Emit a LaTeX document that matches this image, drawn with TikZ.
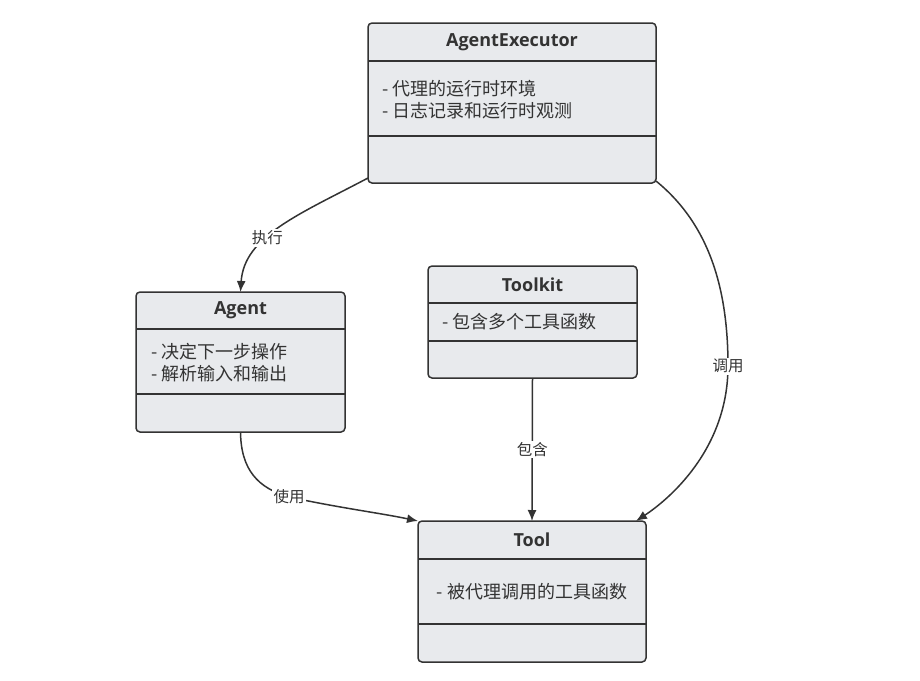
\documentclass[tikz,border=0pt]{standalone}
\usepackage{fontspec}
\setmainfont{Noto Sans CJK SC}
\newfontfamily\titlefont{Open Sans}
\usetikzlibrary{arrows.meta}
\definecolor{boxfill}{RGB}{232,234,237}
\definecolor{ink}{RGB}{51,51,51}

\begin{document}
\begin{tikzpicture}[
  x=1pt, y=-1pt,
  classbox/.style={draw=ink, fill=boxfill, rounded corners=4pt, line width=1.5pt, inner sep=0pt, outer sep=0pt},
  classtitle/.style={font=\titlefont\bfseries\fontsize{18}{22}\selectfont, text=ink, inner sep=0pt},
  member/.style={font=\fontsize{18}{22}\selectfont, text=ink, align=left, anchor=west, inner sep=0pt},
  divider/.style={draw=ink, line width=1.5pt},
  lbl/.style={font=\fontsize{15.5}{18}\selectfont, text=ink, fill=white, inner sep=1.5pt},
  arrow/.style={-{Latex[length=11pt, width=9pt]}, draw=ink, line width=1.5pt}
]
\useasboundingbox (0,0) rectangle (920,680);

\node[classbox, minimum width=288, minimum height=160] (exec) at (512,103) {};
\draw[divider] (exec.west |- 0,61) -- (exec.east |- 0,61);
\draw[divider] (exec.west |- 0,136) -- (exec.east |- 0,136);
\node[classtitle] (exec-title) at (exec.center |- 0,42) {AgentExecutor};
\node[member] (exec-members) at (382,99.5) {- 代理的运行时环境\\- 日志记录和运行时观测};

\node[classbox, minimum width=209, minimum height=140] (agent) at (240.5,362) {};
\draw[divider] (agent.west |- 0,329) -- (agent.east |- 0,329);
\draw[divider] (agent.west |- 0,394) -- (agent.east |- 0,394);
\node[classtitle] (agent-title) at (agent.center |- 0,310.5) {Agent};
\node[member] (agent-members) at (151,363) {- 决定下一步操作\\- 解析输入和输出};

\node[classbox, minimum width=209, minimum height=112] (toolkit) at (532.5,322) {};
\draw[divider] (toolkit.west |- 0,303) -- (toolkit.east |- 0,303);
\draw[divider] (toolkit.west |- 0,341) -- (toolkit.east |- 0,341);
\node[classtitle] (toolkit-title) at (toolkit.center |- 0,284.5) {Toolkit};
\node[member] (toolkit-members) at (442,322) {- 包含多个工具函数};

\node[classbox, minimum width=228, minimum height=141] (tool) at (532,591.5) {};
\draw[divider] (tool.west |- 0,559) -- (tool.east |- 0,559);
\draw[divider] (tool.west |- 0,624) -- (tool.east |- 0,624);
\node[classtitle] (tool-title) at (tool.center |- 0,540) {Tool};
\node[member, anchor=center] (tool-members) at (532,591.5) {- 被代理调用的工具函数};

\draw[arrow] ([yshift=5pt]exec.south west) .. controls (300,214) and (244,236) .. node[lbl, pos=0.6] {执行} (agent.north);
\draw[arrow] ([yshift=2pt]exec.south east) .. controls (710,225) and (728,290) .. (728,366) node[lbl] {调用} .. controls (728,450) and (668,500) .. ([xshift=-10pt]tool.north east);
\draw[arrow] (toolkit.south) -- node[lbl] {包含} (tool.north);
\draw[arrow] (agent.south) .. controls (241,470) and (258,488) .. (289,497) node[lbl] {使用} .. controls (340,508) and (380,513) .. (tool.north west);

\end{tikzpicture}
\end{document}
